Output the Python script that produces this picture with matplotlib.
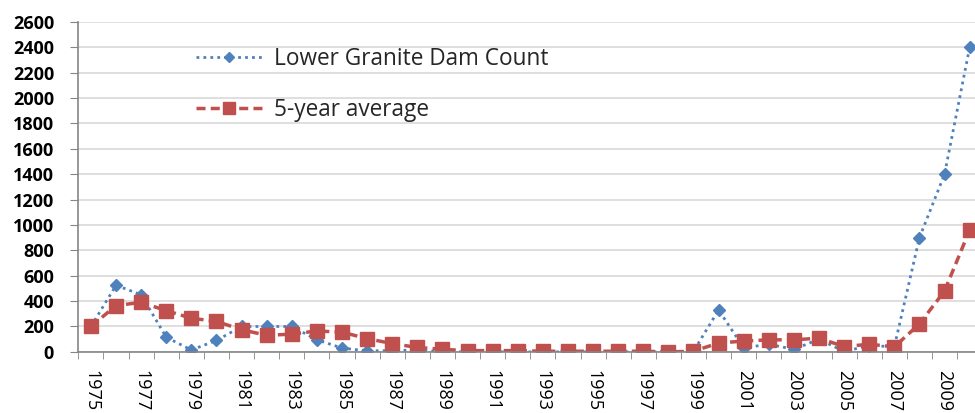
import matplotlib.pyplot as plt
import numpy as np

# annual counts and their 5-year running average
years = list(range(1975, 2011))
dam_count = [200, 525, 450, 115, 15, 90, 200, 200, 200, 95,
             30, 8, 10, 15, 0, 0, 0, 0, 0, 0,
             0, 0, 0, 0, 5, 330, 32, 60, 20, 100,
             3, 50, 40, 900, 1400, 2400]
five_year_avg = [200, 365, 390, 325, 265, 240, 175, 130, 140, 165,
                 155, 105, 65, 35, 20, 10, 10, 10, 5, 5,
                 5, 5, 5, 0, 5, 70, 85, 95, 95, 108,
                 42, 60, 40, 220, 480, 960]
series_labels = ['Lower Granite Dam Count', '5-year average']

plt.rcParams['font.family'] = ['Open Sans', 'DejaVu Sans']

fig = plt.figure(figsize=(9.75, 4.13), dpi=100)
# right edge runs off the canvas on purpose
ax = fig.add_axes([0.0804, 0.148, 0.927, 0.799])

x = np.arange(len(years))
ax.plot(x, dam_count, color='#4F81BD', linestyle=(0, (1, 1.5)), linewidth=2,
        marker='D', markersize=6.5, label=series_labels[0])
ax.plot(x, five_year_avg, color='#C0504D', linestyle=(0, (2.6, 1.5)), linewidth=2.5,
        marker='s', markersize=9.5, label=series_labels[1])

ax.set_xlim(-0.5, len(years) - 0.5)
ax.set_ylim(0, 2600)
ax.set_yticks(np.arange(0, 2601, 200))
ax.yaxis.grid(True, color='#D9D9D9', linewidth=1.2)
ax.set_axisbelow(True)

# labels at every other year, tick marks on the category boundaries
ax.set_xticks(x[::2])
ax.set_xticklabels([str(y) for y in years[::2]], rotation=-90, fontsize=13)
ax.set_xticks(np.arange(-0.5, len(years), 1), minor=True)
ax.tick_params(axis='x', which='major', length=0, pad=13)
ax.tick_params(axis='x', which='minor', length=5, color='#868686')
ax.tick_params(axis='y', length=5.5, color='#868686', pad=12)
for lbl in ax.get_yticklabels():
    lbl.set_fontsize(13)
    lbl.set_fontweight('bold')

for side in ['top', 'right']:
    ax.spines[side].set_visible(False)
for side in ['left', 'bottom']:
    ax.spines[side].set_color('#868686')
    ax.spines[side].set_linewidth(1.2)

leg = ax.legend(loc='upper left', bbox_to_anchor=(0.108, 0.985), frameon=False,
                fontsize=16.3, handlelength=2.9, labelspacing=1.2,
                handletextpad=0.55, markerscale=0.85)
for txt in leg.get_texts():
    txt.set_color('#262626')

fig.savefig('out.png', dpi=100)
